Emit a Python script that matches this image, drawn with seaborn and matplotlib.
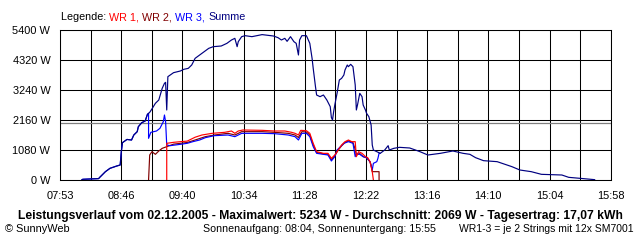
import matplotlib
matplotlib.use("Agg")
import matplotlib.pyplot as plt
import seaborn as sns
import pandas as pd

# ---------------- data ----------------
summe_time = ["08:12", "08:13", "08:27", "08:28", "08:33", "08:37", "08:43", "08:46", "08:47", "08:48",
              "08:52", "08:56", "08:58", "09:01", "09:02", "09:05", "09:08", "09:10", "09:12", "09:14",
              "09:17", "09:20", "09:23", "09:25", "09:26", "09:27", "09:28", "09:33", "09:39", "09:42",
              "09:46", "09:49", "09:52", "09:58", "10:04", "10:08", "10:15", "10:20", "10:24", "10:27",
              "10:29", "10:30", "10:33", "10:36", "10:42", "10:51", "11:01", "11:05", "11:08", "11:11",
              "11:13", "11:16", "11:19", "11:21", "11:23", "11:24", "11:26", "11:30", "11:33", "11:35",
              "11:36", "11:38", "11:39", "11:42", "11:45", "11:48", "11:51", "11:52", "11:53", "11:54",
              "11:55", "11:57", "11:59", "12:01", "12:03", "12:04", "12:06", "12:07", "12:09", "12:11",
              "12:13", "12:14", "12:15", "12:17", "12:19", "12:20", "12:22", "12:23", "12:25", "12:27",
              "12:28", "12:29", "12:32", "12:35", "12:39", "12:42", "12:43", "12:47", "12:52", "13:01",
              "13:06", "13:10", "13:17", "13:28", "13:39", "13:48", "13:54", "13:59", "14:06", "14:18",
              "14:31", "14:38", "14:48", "14:57", "15:15", "15:21", "15:31", "15:44"]
summe_power = [0, 25, 50, 96, 300, 420, 504, 540, 1020, 1344,
               1460, 1440, 1620, 1740, 1920, 2064, 2124, 2364, 2436, 2560,
               2760, 2880, 3300, 3480, 3516, 2520, 3720, 3864, 3924, 3984,
               4020, 4140, 4380, 4560, 4740, 4800, 4824, 4920, 5040, 5100,
               4800, 4980, 5160, 5196, 5160, 5234, 5184, 5124, 5040, 5100,
               4992, 5160, 4980, 4920, 4500, 5040, 5196, 5196, 4920, 4380,
               4020, 3360, 3060, 3000, 3060, 2880, 2640, 2250, 2160, 2460,
               2700, 3120, 3600, 3660, 3780, 3960, 4140, 4080, 4164, 4080,
               3420, 2520, 2700, 3120, 3000, 2700, 2520, 2400, 2280, 1980,
               1260, 1080, 1020, 960, 1080, 1236, 1080, 1140, 1176, 1152,
               1080, 1020, 900, 960, 1044, 960, 924, 804, 696, 660,
               480, 360, 300, 204, 180, 96, 60, 12]

wr3_time = ["08:12", "08:13", "08:27", "08:28", "08:33", "08:37", "08:43", "08:46", "08:47", "08:48",
            "08:52", "08:56", "08:58", "09:01", "09:02", "09:05", "09:08", "09:10", "09:11", "09:11",
            "09:13", "09:18", "09:21", "09:24", "09:25", "09:26", "09:27", "09:30", "09:39", "09:45",
            "09:50", "09:56", "10:01", "10:09", "10:21", "10:27", "10:33", "10:51", "11:02", "11:14",
            "11:20", "11:23", "11:26", "11:30", "11:33", "11:36", "11:39", "11:45", "11:49", "11:52",
            "11:55", "11:57", "12:00", "12:03", "12:07", "12:11", "12:13", "12:14", "12:17", "12:20",
            "12:23", "12:26", "12:28", "12:29", "12:32", "12:33", "12:34", "12:35"]
wr3_power = [0, 25, 50, 96, 300, 420, 504, 540, 1020, 1344,
             1460, 1440, 1620, 1740, 1920, 2064, 2124, 2364, 2400, 1500,
             1716, 1764, 1860, 2100, 2340, 2100, 1260, 1236, 1284, 1320,
             1380, 1440, 1524, 1596, 1620, 1560, 1680, 1680, 1668, 1620,
             1560, 1440, 1680, 1680, 1560, 1200, 960, 924, 900, 684,
             840, 1080, 1200, 1320, 1380, 1320, 840, 960, 924, 840,
             804, 660, 360, 600, 660, 780, 960, 960]

wr1_time = ["09:27", "09:27", "09:33", "09:39", "09:45", "09:50", "09:52", "09:58", "10:07", "10:18",
            "10:24", "10:27", "10:30", "10:34", "10:51", "11:02", "11:11", "11:17", "11:20", "11:23",
            "11:25", "11:30", "11:33", "11:36", "11:39", "11:45", "11:49", "11:52", "11:55", "11:58",
            "12:01", "12:04", "12:07", "12:10", "12:13", "12:14", "12:16", "12:19", "12:22", "12:24",
            "12:26", "12:28", "12:29"]
wr1_power = [0, 1320, 1356, 1380, 1400, 1500, 1540, 1620, 1680, 1716,
             1764, 1680, 1764, 1800, 1788, 1764, 1764, 1716, 1680, 1620,
             1788, 1776, 1680, 1320, 1020, 960, 960, 780, 900, 1080,
             1260, 1380, 1440, 1380, 1380, 840, 1020, 960, 840, 804,
             660, 300, 0]

wr2_time = ["09:11", "09:12", "09:14", "09:17", "09:20", "09:23", "09:27", "09:33", "09:39", "09:45",
            "09:52", "10:01", "10:09", "10:21", "10:27", "10:33", "10:51", "11:02", "11:14", "11:20",
            "11:23", "11:26", "11:30", "11:33", "11:36", "11:39", "11:45", "11:49", "11:52", "11:55",
            "11:58", "12:01", "12:04", "12:07", "12:11", "12:13", "12:14", "12:17", "12:20", "12:23",
            "12:26", "12:27", "12:28", "12:34", "12:34"]
wr2_power = [0, 900, 1020, 924, 1044, 1140, 1200, 1290, 1320, 1350,
             1440, 1560, 1620, 1680, 1620, 1740, 1740, 1716, 1680, 1620,
             1530, 1740, 1728, 1620, 1260, 990, 940, 930, 730, 870,
             1080, 1230, 1350, 1410, 1350, 1100, 900, 950, 840, 800,
             660, 540, 300, 300, 0]

y_ticks = [0, 1080, 2160, 3240, 4320, 5400]
x_tick_labels = ["07:53", "08:46", "09:40", "10:34", "11:28", "12:22", "13:16", "14:10", "15:04", "15:58"]
x_start, x_end = "07:53", "15:58"
durchschnitt = 2069

series_names = ["WR 1", "WR 2", "WR 3", "Summe"]
series_colors = {"WR 1": "#FF0000", "WR 2": "#800000", "WR 3": "#0000FF", "Summe": "#000080"}

title = "Leistungsverlauf vom 02.12.2005 - Maximalwert: 5234 W - Durchschnitt: 2069 W - Tagesertrag: 17,07 kWh"
foot_left = "\u00a9 SunnyWeb"
foot_mid = "Sonnenaufgang: 08:04, Sonnenuntergang: 15:55"
foot_right = "WR1-3 = je 2 Strings mit 12x SM7001"


def to_min(s):
    h, m = s.split(":")
    return int(h) * 60 + int(m)


frames = []
for name, t, p in [("WR 1", wr1_time, wr1_power), ("WR 2", wr2_time, wr2_power),
                   ("WR 3", wr3_time, wr3_power), ("Summe", summe_time, summe_power)]:
    frames.append(pd.DataFrame({"t": [to_min(v) for v in t], "P": p, "serie": name}))
df = pd.concat(frames, ignore_index=True)

# ---------------- style ----------------
sns.set_theme(style="white")
plt.rcParams["font.family"] = ["Liberation Sans", "DejaVu Sans"]
plt.rcParams["text.color"] = "black"

W, H = 640, 240
fig = plt.figure(figsize=(6.4, 2.4), dpi=100)
fig.patch.set_facecolor("white")
ax = fig.add_axes([60 / W, 60 / H, 550.7 / W, 150 / H])
ax.set_facecolor("white")

# draw order: WR 2, WR 3, WR 1, Summe on top
for name in ["WR 2", "WR 3", "WR 1", "Summe"]:
    sub = df[df["serie"] == name]
    sns.lineplot(data=sub, x="t", y="P", ax=ax, color=series_colors[name],
                 estimator=None, sort=False, linewidth=0.85, legend=False, zorder=3)

ax.axhline(durchschnitt, color="#808080", linewidth=0.9, zorder=2)

x0, x1 = to_min(x_start), to_min(x_end)
n_grid = 18
xt = [x0 + k * (x1 - x0) / n_grid for k in range(n_grid + 1)]
ax.set_xlim(x0, x1)
ax.set_ylim(y_ticks[0], y_ticks[-1])
ax.set_xticks(xt)
labels = []
for k in range(n_grid + 1):
    labels.append(x_tick_labels[k // 2] if k % 2 == 0 else "")
ax.set_xticklabels(labels)
ax.set_yticks(y_ticks)
ax.set_yticklabels([f"{v} W" for v in y_ticks])
ax.grid(True, color="black", linewidth=0.75, zorder=1)
ax.set_axisbelow(True)
for sp in ax.spines.values():
    sp.set_visible(True)
    sp.set_color("black")
    sp.set_linewidth(0.75)
ax.tick_params(axis="both", which="major", direction="out", length=3.6, width=0.75,
               color="black", labelsize=7.9, labelcolor="black")
ax.tick_params(axis="y", pad=3.4)
ax.tick_params(axis="x", pad=4.0)
ax.set_xlabel("")
ax.set_ylabel("")


def fx(px):
    return px / W


def fy(py):
    return 1 - py / H


fig.canvas.draw()
renderer = fig.canvas.get_renderer()


def fit(t, target_w):
    bb = t.get_window_extent(renderer)
    t.set_fontsize(t.get_fontsize() * target_w / bb.width)


tt = fig.text(fx(320), fy(216.5), title, ha="center", va="center", fontsize=8, fontweight="bold")
fit(tt, 605)
t1 = fig.text(fx(5), fy(229), foot_left, ha="left", va="center", fontsize=8)
fit(t1, 65)
t2 = fig.text(fx(203), fy(229), foot_mid, ha="left", va="center", fontsize=8)
fit(t2, 233)
t3 = fig.text(fx(634), fy(229), foot_right, ha="right", va="center", fontsize=8)
fit(t3, 175)

# legend line above the plot, coloured words
segments = [("Legende: ", "black"), ("WR 1, ", series_colors["WR 1"]), ("WR 2, ", series_colors["WR 2"]),
            ("WR 3, ", series_colors["WR 3"]), ("Summe", series_colors["Summe"])]
full = fig.text(0, 0, "".join(s for s, _ in segments), fontsize=8)
fit(full, 184)
leg_size = full.get_fontsize()
full.remove()
xpos = 61
for s, c in segments:
    t = fig.text(fx(xpos), fy(17), s, ha="left", va="center", fontsize=leg_size, color=c)
    xpos += t.get_window_extent(renderer).width

fig.savefig("out.png", dpi=100, facecolor="white")
